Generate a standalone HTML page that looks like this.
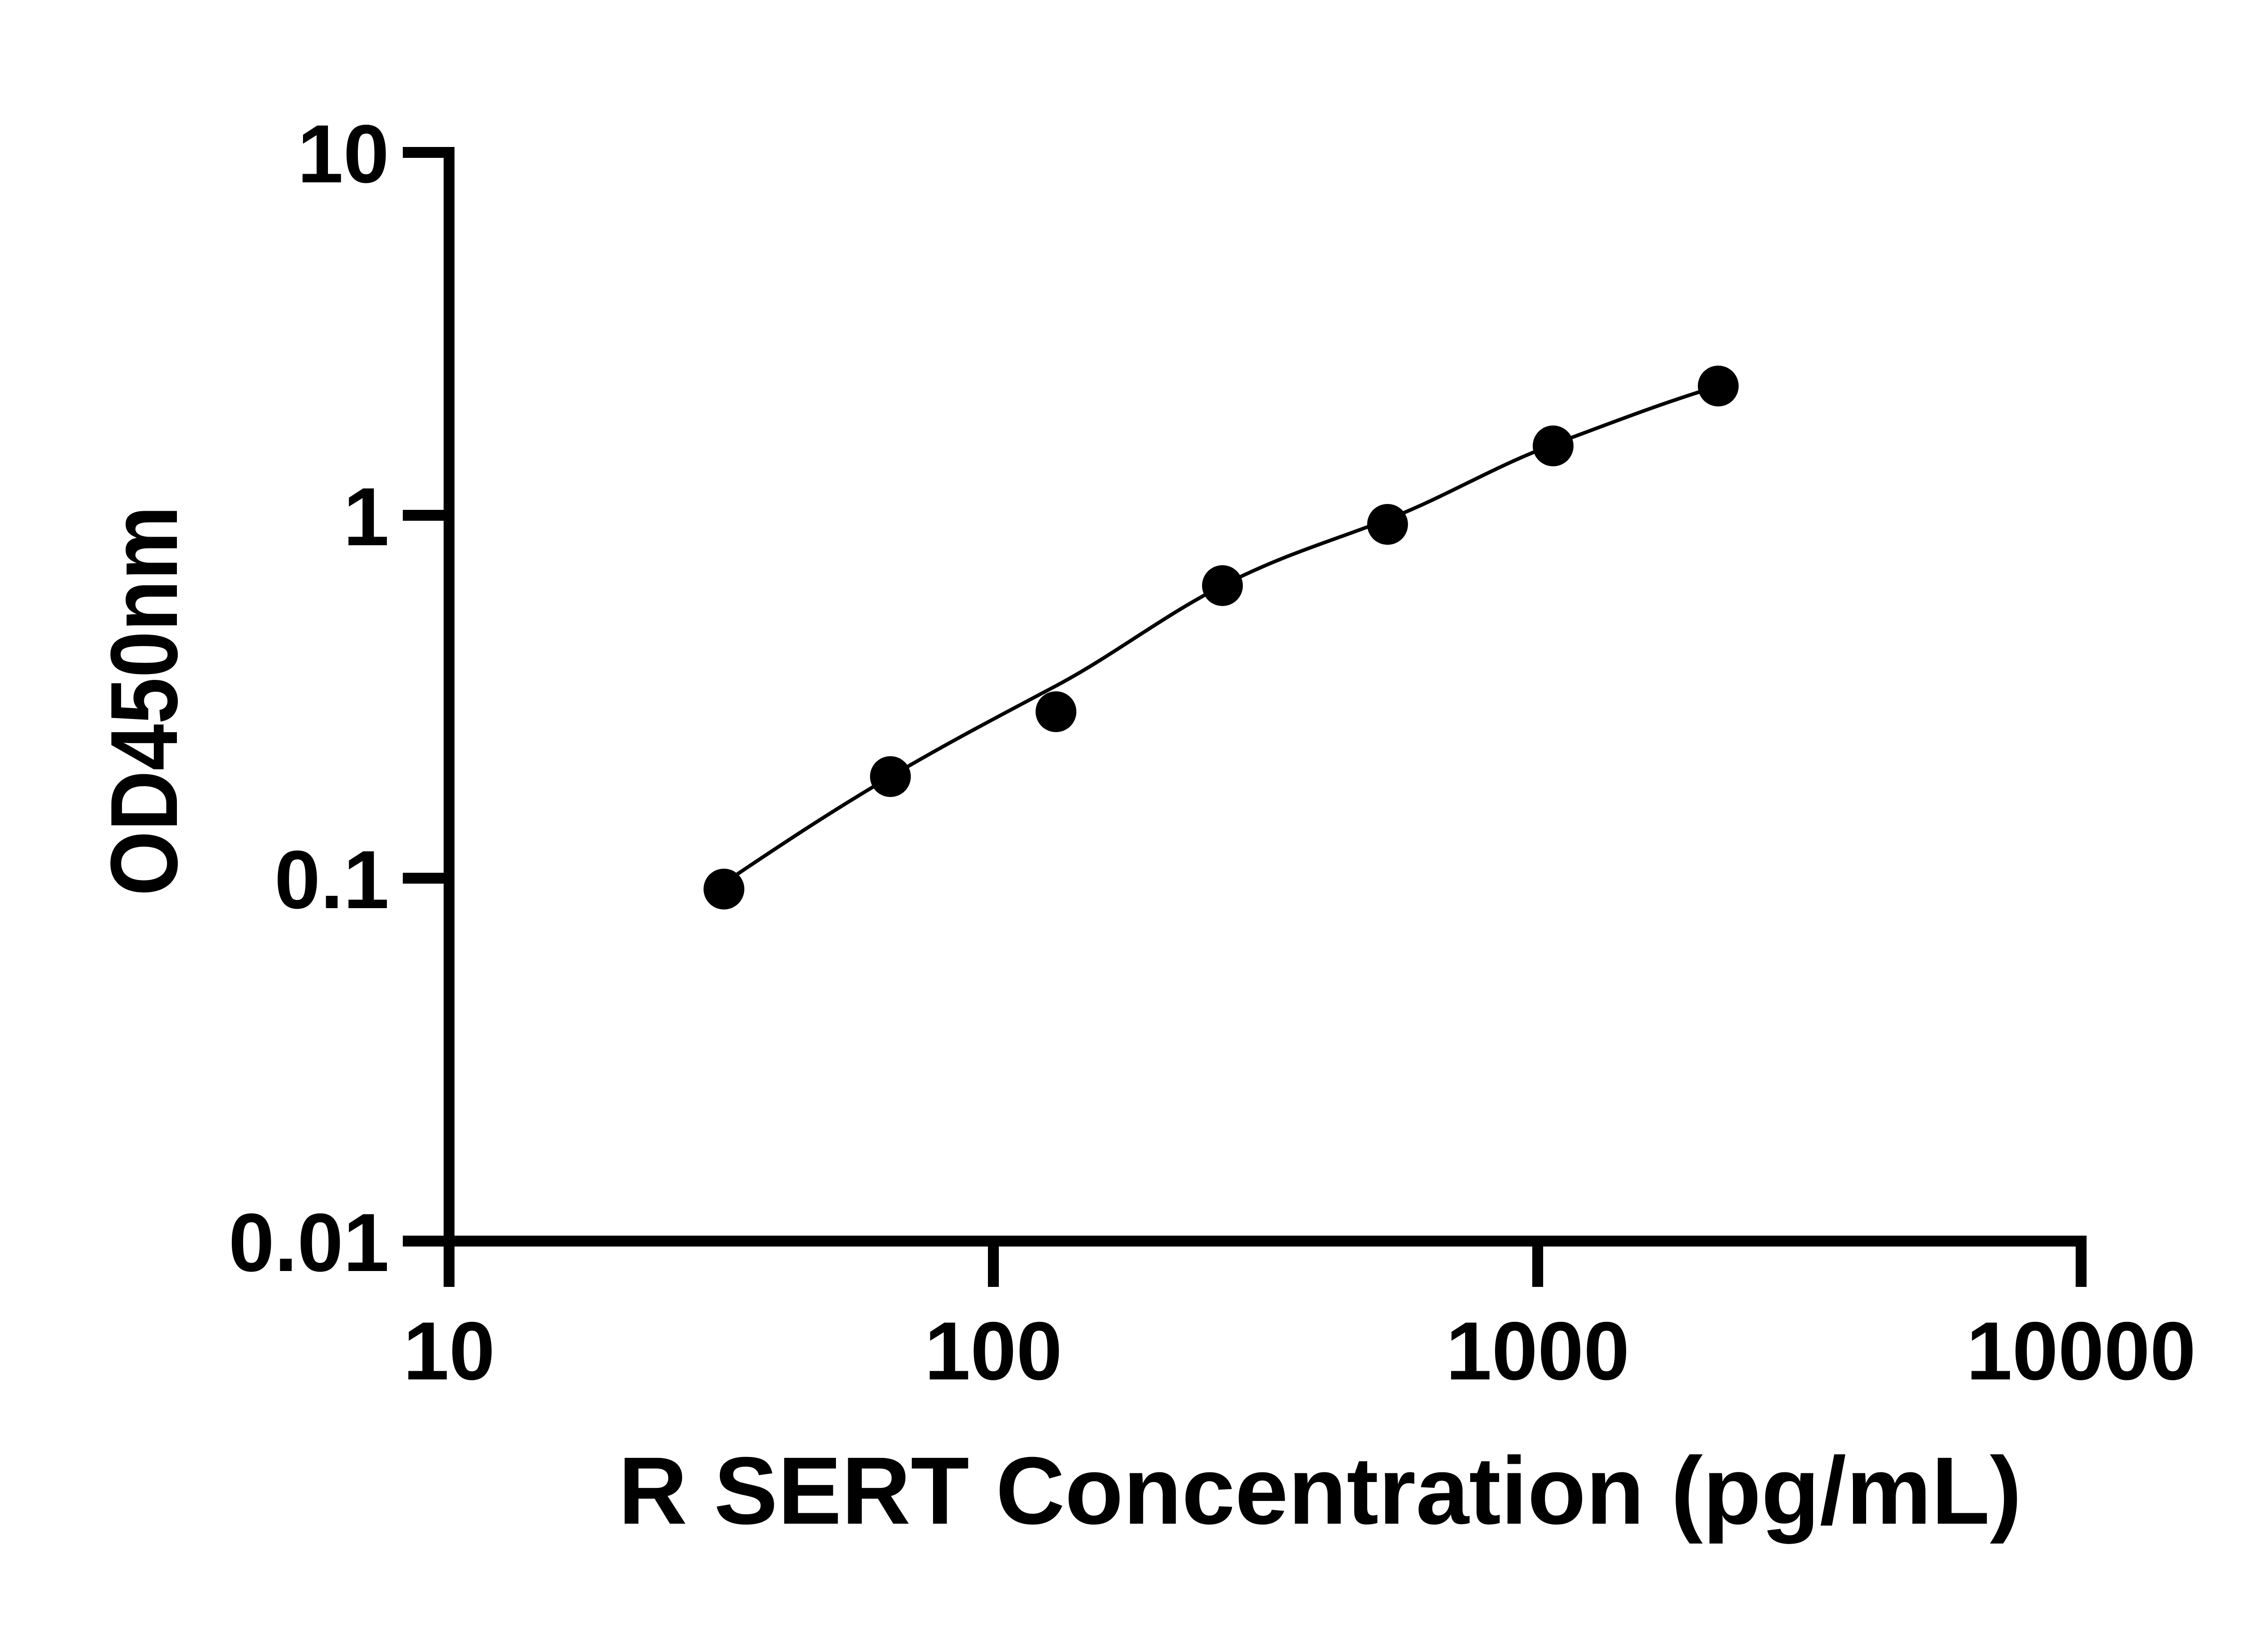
<!DOCTYPE html>
<html><head><meta charset="utf-8"><style>html,body{margin:0;padding:0;background:#fff}svg{display:block}</style></head>
<body>
<svg width="5142" height="3600" viewBox="0 0 5142 3600" xmlns="http://www.w3.org/2000/svg">
<rect width="5142" height="3600" fill="#fff"/>
<g stroke="#000" stroke-width="24" fill="none">
<line x1="990" y1="324" x2="990" y2="2748"/>
<line x1="888" y1="2736" x2="4600" y2="2736"/>
<line x1="888" y1="336" x2="1002" y2="336"/>
<line x1="888" y1="1136" x2="1002" y2="1136"/>
<line x1="888" y1="1936" x2="1002" y2="1936"/>
<line x1="990" y1="2736" x2="990" y2="2837"/>
<line x1="2190" y1="2736" x2="2190" y2="2837"/>
<line x1="3390" y1="2736" x2="3390" y2="2837"/>
<line x1="4588" y1="2736" x2="4588" y2="2837"/>
</g>
<g font-family="Liberation Sans, sans-serif" font-weight="bold" font-size="182" fill="#000">
<text x="858" y="402" text-anchor="end">10</text>
<text x="858" y="1202" text-anchor="end">1</text>
<text x="858" y="2002" text-anchor="end">0.1</text>
<text x="858" y="2802" text-anchor="end">0.01</text>
<text x="990" y="3041" text-anchor="middle">10</text>
<text x="2190" y="3041" text-anchor="middle">100</text>
<text x="3390" y="3041" text-anchor="middle">1000</text>
<text x="4588" y="3041" text-anchor="middle">10000</text>
</g>
<text x="1363" y="3359" font-family="Liberation Sans, sans-serif" font-weight="bold" font-size="211" textLength="3094" lengthAdjust="spacingAndGlyphs">R SERT Concentration (pg/mL)</text>
<text transform="translate(390,1975) rotate(-90)" font-family="Liberation Sans, sans-serif" font-weight="bold" font-size="210" textLength="860" lengthAdjust="spacingAndGlyphs">OD450nm</text>
<path d="M1584,1955 C1710,1870 1830,1790 1963,1712 S2200,1580 2328,1512 S2560,1360 2695,1291 S2930,1195 3059,1145 S3290,1030 3424,980 S3660,890 3788,851" stroke="#000" stroke-width="8" fill="none"/>
<g fill="#000">
<circle cx="1596" cy="1960" r="45"/>
<circle cx="1963" cy="1712" r="45"/>
<circle cx="2328" cy="1569" r="45"/>
<circle cx="2695" cy="1291" r="45"/>
<circle cx="3059" cy="1156" r="45"/>
<circle cx="3424" cy="983" r="45"/>
<circle cx="3788" cy="851" r="45"/>
</g>
</svg>
</body></html>
